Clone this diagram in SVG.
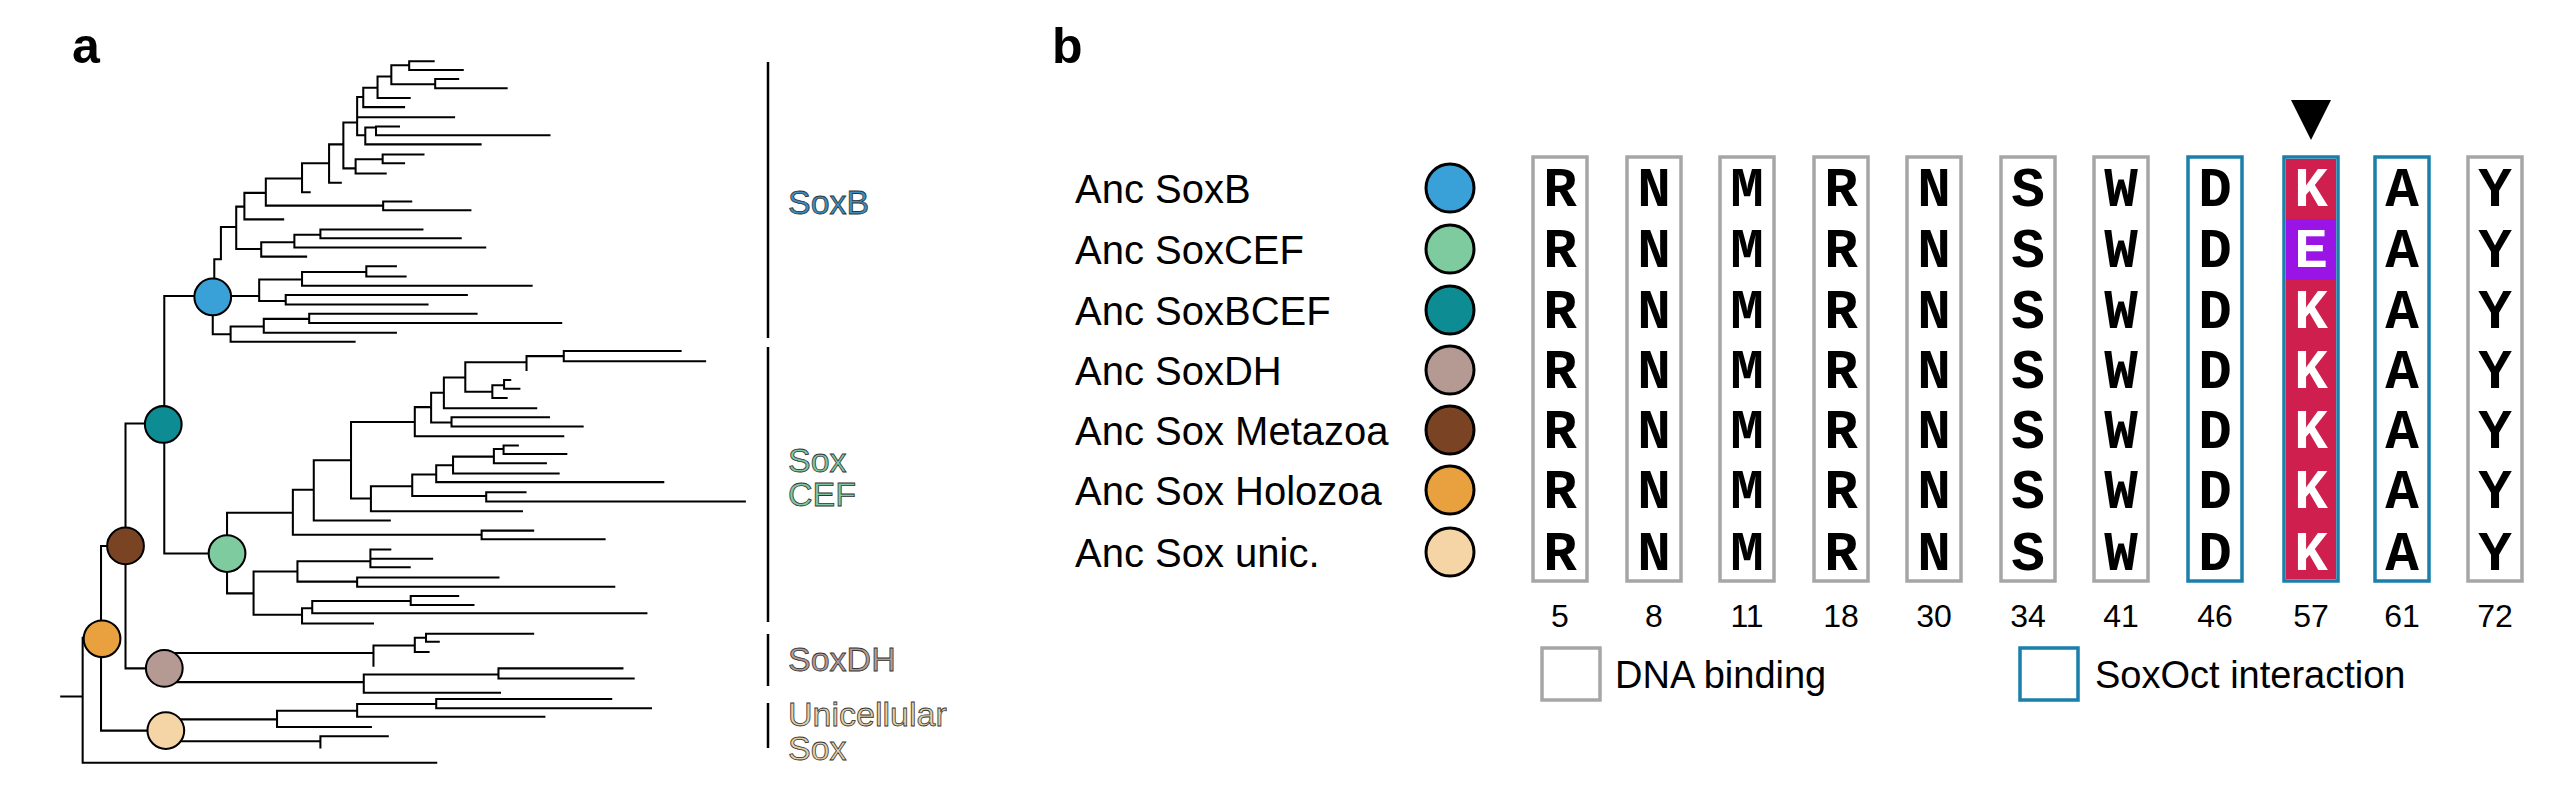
<svg xmlns="http://www.w3.org/2000/svg" width="2571" height="785" viewBox="0 0 2571 785">
<style>
.panel{font-family:"Liberation Sans",Arial,sans-serif;font-weight:bold;font-size:50px;fill:#000}
.tree{fill:none;stroke:#000;stroke-width:4;stroke-linecap:square}
.node{stroke:#000;stroke-width:4}
.bn{stroke:#000;stroke-width:3}
.clade{font-family:"Liberation Sans",Arial,sans-serif;font-size:34px;stroke:#333;stroke-width:0.8}
.lab{font-family:"Liberation Sans",Arial,sans-serif;font-size:40px;fill:#000}
.aa{font-family:"Liberation Mono","Courier New",monospace;font-weight:bold;font-size:56px;text-anchor:middle;fill:#000}
.aw{fill:#fff}
.num{font-family:"Liberation Sans",Arial,sans-serif;font-size:32px;text-anchor:middle;fill:#000}
.gbox{fill:none;stroke:#a6a6a6;stroke-width:3.5}
.bbox{fill:none;stroke:#1a7faa;stroke-width:3.5}
.leg{font-family:"Liberation Sans",Arial,sans-serif;font-size:38px;fill:#000}
</style>
<rect width="2571" height="785" fill="#fff"/>
<text class="panel" x="72" y="63">a</text>
<text class="panel" x="1052" y="63">b</text>

<g id="tree" transform="scale(0.5102)">
<path class="tree" d="M120 1365 H162 M162 1250 V1495 H855 M162 1250 H200 M198 1070 V1432 M198 1070 H246 M198 1432 H325 M246 830 V1310 M246 830 H322 M246 1310 H322 M322 580 V1085 M322 580 H417 M322 1085 H445"/>
<path class="tree" d="M417 580 H508 M508 548 V590 M508 548 H592 M592 533 V560 M592 533 H718 M718 522 V542 M718 522 H776 M718 542 H795 M592 560 H1042 M508 590 H560 M560 578 V597 M560 578 H915 M560 597 H838
M417 582 V655 H452 M452 640 V670 M452 640 H517 M517 625 V652 M517 625 H606 M606 615 V633 M606 615 H934 M606 633 H1100 M517 652 H776 M452 670 H695
M420 582 V508 H433 M433 445 V508 M433 445 H463 M463 405 V488 M463 405 H479 M479 378 V430 M479 378 H521 M479 430 H555 M463 488 H512 M512 475 V503 M512 475 H577 M577 460 V485 M577 460 H628 M628 450 V467 M628 450 H828 M628 467 H903 M577 485 H951 M512 503 H600
M521 350 V403 M521 350 H592 M521 403 H751 M751 395 V412 M751 395 H806 M751 412 H922
M592 320 V377 M592 320 H645 M592 377 H607
M645 283 V358 M645 283 H673 M645 358 H668
M673 240 V330 M673 240 H700 M673 330 H697 M697 312 V340 M697 312 H750 M750 303 V320 M750 303 H830 M750 320 H792 M697 340 H756
M700 190 V265 M700 190 H712 M700 230 H890 M700 265 H716 M716 250 V283 M716 250 H737 M737 248 V265 M737 248 H782 M737 265 H1077 M716 283 H942
M712 172 V210 M712 172 H740 M712 210 H792
M740 150 V192 M740 150 H767 M740 192 H803 M767 128 V165 M767 128 H802 M802 120 V137 M802 120 H850 M802 137 H907 M767 165 H853 M853 155 V173 M853 155 H898 M853 173 H993"/>
<path class="tree" d="M445 1085 V1005 H574 M574 960 V1048 M574 960 H615 M574 1048 H944 M944 1040 V1057 M944 1040 H1045 M944 1057 H1185
M615 902 V1020 M615 902 H688 M615 1020 H764
M688 827 V977 M688 827 H813 M688 977 H727
M813 798 V855 M813 798 H845 M813 855 H1104
M845 770 V828 M845 770 H870 M845 828 H885 M885 818 V836 M885 818 H1076 M885 836 H1142
M870 740 V800 M870 740 H912 M870 800 H1051
M912 710 V768 M912 710 H1032 M1032 698 V725 M1032 698 H1105 M1105 688 V708 M1105 688 H1334 M1105 708 H1382 M912 768 H965 M965 755 V780 M965 755 H988 M988 745 V762 M988 745 H1000 M988 762 H1018 M965 780 H993
M727 953 V1002 M727 953 H808 M727 1002 H1023
M808 930 V972 M808 930 H855 M808 972 H953 M953 965 V983 M953 965 H1030 M953 983 H1460
M855 912 V945 M855 912 H888 M855 945 H1300
M888 895 V928 M888 895 H968 M968 880 V908 M968 880 H987 M987 873 V890 M987 873 H1015 M987 890 H1110 M968 908 H1070 M888 928 H1095
M445 1085 V1163 H497 M497 1120 V1205 M497 1120 H583 M497 1205 H592
M583 1100 V1140 M583 1100 H726 M726 1077 V1112 M726 1077 H765 M726 1095 H847 M726 1112 H803 M583 1140 H700 M700 1132 V1150 M700 1132 H977 M700 1150 H1204
M592 1192 V1222 M592 1192 H612 M612 1178 V1202 M612 1178 H805 M805 1168 V1186 M805 1168 H898 M805 1186 H928 M612 1202 H1267 M592 1222 H731"/>
<path class="tree" d="M322 1280 H732 M732 1265 V1305 M732 1265 H813 M813 1250 V1278 M813 1250 H835 M835 1242 V1258 M835 1242 H1045 M835 1258 H860 M813 1278 H840
M322 1337 H713 M713 1322 V1358 M713 1322 H977 M977 1310 V1330 M977 1310 H1220 M977 1330 H1242 M713 1358 H980
M325 1410 H543 M543 1393 V1425 M543 1393 H700 M700 1380 V1405 M700 1380 H855 M855 1370 V1388 M855 1370 H1198 M855 1388 H1276 M700 1405 H1067 M543 1425 H727
M325 1453 H628 M628 1443 V1465 M628 1443 H760"/>
<circle class="node" cx="417" cy="582" r="36" fill="#3aa0d8"/>
<circle class="node" cx="320" cy="832" r="36" fill="#0e8c93"/>
<circle class="node" cx="445" cy="1085" r="36" fill="#7fcba0"/>
<circle class="node" cx="246" cy="1070" r="36" fill="#7a4424"/>
<circle class="node" cx="200" cy="1252" r="36" fill="#e9a03f"/>
<circle class="node" cx="322" cy="1310" r="36" fill="#b59a94"/>
<circle class="node" cx="325" cy="1432" r="36" fill="#f5d5a5"/>
</g>
<g id="brackets" stroke="#000" stroke-width="2.5">
<line x1="768" y1="62" x2="768" y2="338"/>
<line x1="768" y1="347" x2="768" y2="622"/>
<line x1="768" y1="634" x2="768" y2="686"/>
<line x1="768" y1="703" x2="768" y2="748"/>
</g>
<text class="clade" x="788" y="214" fill="#3a8fc0">SoxB</text>
<text class="clade" x="788" y="472" fill="#7fc9a0">Sox</text>
<text class="clade" x="788" y="506" fill="#7fc9a0">CEF</text>
<text class="clade" x="788" y="671" fill="#b59a94">SoxDH</text>
<text class="clade" x="788" y="726" fill="#e8cfa2">Unicellular</text>
<text class="clade" x="788" y="760" fill="#e8cfa2">Sox</text>

<g id="labels">
<text class="lab" x="1075" y="203">Anc SoxB</text>
<text class="lab" x="1075" y="264">Anc SoxCEF</text>
<text class="lab" x="1075" y="325">Anc SoxBCEF</text>
<text class="lab" x="1075" y="385">Anc SoxDH</text>
<text class="lab" x="1075" y="445">Anc Sox Metazoa</text>
<text class="lab" x="1075" y="505">Anc Sox Holozoa</text>
<text class="lab" x="1075" y="567">Anc Sox unic.</text>
<circle class="bn" cx="1450" cy="188" r="24" fill="#3aa0d8"/>
<circle class="bn" cx="1450" cy="249" r="24" fill="#7fcba0"/>
<circle class="bn" cx="1450" cy="310" r="24" fill="#0e8c93"/>
<circle class="bn" cx="1450" cy="370" r="24" fill="#b59a94"/>
<circle class="bn" cx="1450" cy="430" r="24" fill="#7a4424"/>
<circle class="bn" cx="1450" cy="490" r="24" fill="#e9a03f"/>
<circle class="bn" cx="1450" cy="552" r="24" fill="#f5d5a5"/>
</g>

<g id="alignment">
<rect x="2286" y="159" width="50" height="420" fill="#cf1f4e"/>
<rect x="2286" y="219" width="50" height="61" fill="#9a14e6"/>
<rect class="gbox" x="1533" y="157" width="54" height="424"/>
<rect class="gbox" x="1627" y="157" width="54" height="424"/>
<rect class="gbox" x="1720" y="157" width="54" height="424"/>
<rect class="gbox" x="1814" y="157" width="54" height="424"/>
<rect class="gbox" x="1907" y="157" width="54" height="424"/>
<rect class="gbox" x="2001" y="157" width="54" height="424"/>
<rect class="gbox" x="2094" y="157" width="54" height="424"/>
<rect class="bbox" x="2188" y="157" width="54" height="424"/>
<rect class="bbox" x="2284" y="157" width="54" height="424"/>
<rect class="bbox" x="2375" y="157" width="54" height="424"/>
<rect class="gbox" x="2468" y="157" width="54" height="424"/>
<g class="aa">
<text x="1560" y="206">R</text><text x="1560" y="267">R</text><text x="1560" y="328">R</text><text x="1560" y="388">R</text><text x="1560" y="448">R</text><text x="1560" y="508">R</text><text x="1560" y="570">R</text>
<text x="1654" y="206">N</text><text x="1654" y="267">N</text><text x="1654" y="328">N</text><text x="1654" y="388">N</text><text x="1654" y="448">N</text><text x="1654" y="508">N</text><text x="1654" y="570">N</text>
<text x="1747" y="206">M</text><text x="1747" y="267">M</text><text x="1747" y="328">M</text><text x="1747" y="388">M</text><text x="1747" y="448">M</text><text x="1747" y="508">M</text><text x="1747" y="570">M</text>
<text x="1841" y="206">R</text><text x="1841" y="267">R</text><text x="1841" y="328">R</text><text x="1841" y="388">R</text><text x="1841" y="448">R</text><text x="1841" y="508">R</text><text x="1841" y="570">R</text>
<text x="1934" y="206">N</text><text x="1934" y="267">N</text><text x="1934" y="328">N</text><text x="1934" y="388">N</text><text x="1934" y="448">N</text><text x="1934" y="508">N</text><text x="1934" y="570">N</text>
<text x="2028" y="206">S</text><text x="2028" y="267">S</text><text x="2028" y="328">S</text><text x="2028" y="388">S</text><text x="2028" y="448">S</text><text x="2028" y="508">S</text><text x="2028" y="570">S</text>
<text x="2121" y="206">W</text><text x="2121" y="267">W</text><text x="2121" y="328">W</text><text x="2121" y="388">W</text><text x="2121" y="448">W</text><text x="2121" y="508">W</text><text x="2121" y="570">W</text>
<text x="2215" y="206">D</text><text x="2215" y="267">D</text><text x="2215" y="328">D</text><text x="2215" y="388">D</text><text x="2215" y="448">D</text><text x="2215" y="508">D</text><text x="2215" y="570">D</text>
<text class="aw" x="2311" y="206">K</text><text class="aw" x="2311" y="267">E</text><text class="aw" x="2311" y="328">K</text><text class="aw" x="2311" y="388">K</text><text class="aw" x="2311" y="448">K</text><text class="aw" x="2311" y="508">K</text><text class="aw" x="2311" y="570">K</text>
<text x="2402" y="206">A</text><text x="2402" y="267">A</text><text x="2402" y="328">A</text><text x="2402" y="388">A</text><text x="2402" y="448">A</text><text x="2402" y="508">A</text><text x="2402" y="570">A</text>
<text x="2495" y="206">Y</text><text x="2495" y="267">Y</text><text x="2495" y="328">Y</text><text x="2495" y="388">Y</text><text x="2495" y="448">Y</text><text x="2495" y="508">Y</text><text x="2495" y="570">Y</text>
</g>
<g class="num">
<text x="1560" y="627">5</text><text x="1654" y="627">8</text><text x="1747" y="627">11</text><text x="1841" y="627">18</text><text x="1934" y="627">30</text><text x="2028" y="627">34</text><text x="2121" y="627">41</text><text x="2215" y="627">46</text><text x="2311" y="627">57</text><text x="2402" y="627">61</text><text x="2495" y="627">72</text>
</g>
<polygon id="arrow" points="2291,100 2331,100 2311,140" fill="#000"/>
</g>

<g id="legend">
<rect class="gbox" x="1542" y="648" width="58" height="52"/>
<text class="leg" x="1615" y="688">DNA binding</text>
<rect class="bbox" x="2020" y="648" width="58" height="52"/>
<text class="leg" x="2095" y="688">SoxOct interaction</text>
</g>
</svg>
